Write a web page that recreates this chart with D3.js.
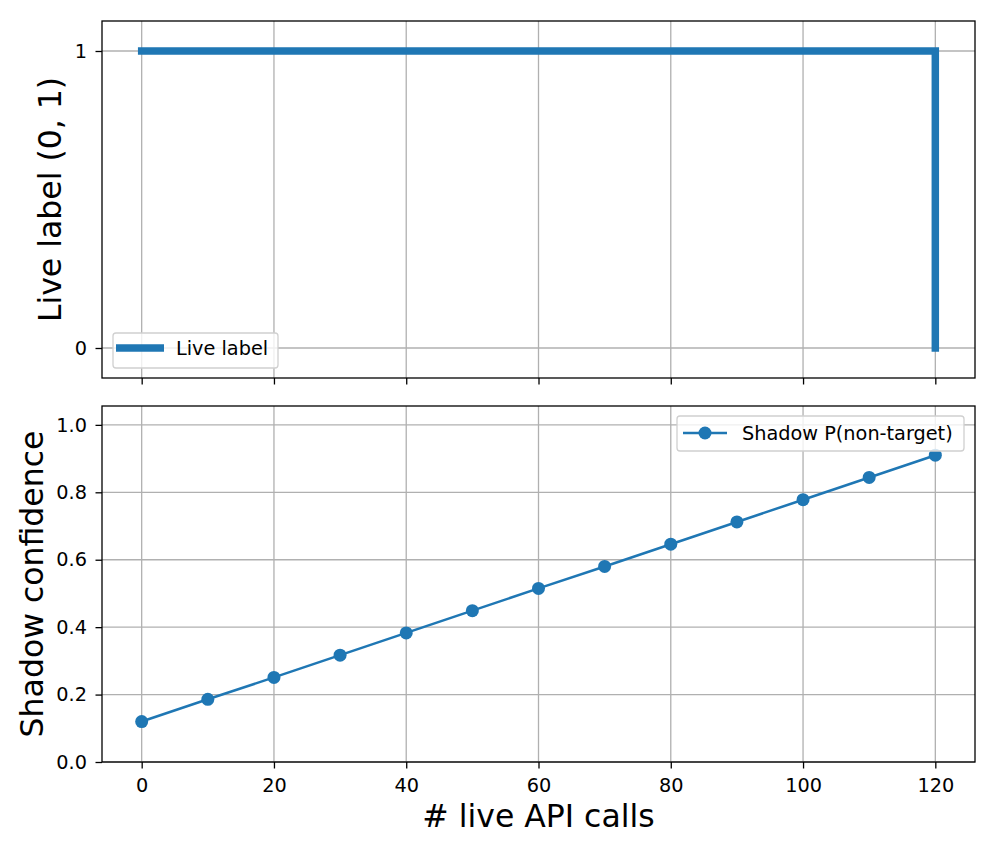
<!DOCTYPE html>
<html><head><meta charset="utf-8">
<script src="https://cdn.jsdelivr.net/npm/d3@7"></script>
<style>body{margin:0;background:#fff}svg{display:block}text{font-family:"DejaVu Sans",sans-serif}</style>
</head><body>
<script>
const calls = [0,10,20,30,40,50,60,70,80,90,100,110,120];
const liveLabel = [1,1,1,1,1,1,1,1,1,1,1,1,0];
const shadowConf = [0.12,0.186,0.251,0.317,0.383,0.449,0.515,0.580,0.646,0.712,0.778,0.844,0.910];
const xTicks = [0,20,40,60,80,100,120];
const topYTicks = [0,1];
const botYTicks = [0,0.2,0.4,0.6,0.8,1.0];
const xLabel = "# live API calls";
const topYLabel = "Live label (0, 1)";
const botYLabel = "Shadow confidence";
const topLegend = "Live label";
const botLegend = "Shadow P(non-target)";
const color = "#1f77b4";

const W=996,H=854;
const svg=d3.select("body").append("svg").attr("width",W).attr("height",H);
const L=102,R=975;
const x=d3.scaleLinear().domain([-6,126]).range([L,R]);
const yTop=d3.scaleLinear().domain([-0.101,1.101]).range([378,21]);
const yBot=d3.scaleLinear().domain([0,1.056]).range([762,406]);
const tickFont=19.3, labelFont=31.5;

function panel(y, yTicks, fmt, showXLabels){
  const g=svg.append("g");
  const [b,t]=y.range();
  g.selectAll(".gx").data(xTicks).join("line").attr("x1",d=>x(d)).attr("x2",d=>x(d))
    .attr("y1",t).attr("y2",b).attr("stroke","#b0b0b0").attr("stroke-width",1.3);
  g.selectAll(".gy").data(yTicks).join("line").attr("x1",L).attr("x2",R)
    .attr("y1",d=>y(d)).attr("y2",d=>y(d)).attr("stroke","#b0b0b0").attr("stroke-width",1.3);
  const xa=d3.axisBottom(x).tickValues(xTicks).tickSize(6.5).tickPadding(9.5)
    .tickFormat(showXLabels?d3.format("d"):"");
  const gx=svg.append("g").attr("transform",`translate(0,${b})`).call(xa);
  const ya=d3.axisLeft(y).tickValues(yTicks).tickSize(6.5).tickPadding(8.5).tickFormat(fmt);
  const gy=svg.append("g").attr("transform",`translate(${L},0)`).call(ya);
  [gx,gy].forEach(a=>{a.select(".domain").remove();
    a.selectAll("line").attr("stroke","#000").attr("stroke-width",1.3);
    a.selectAll("text").attr("font-size",tickFont).attr("fill","#000").attr("font-family","DejaVu Sans");});
  return {g,t,b};
}
function frame(t,b){
  svg.append("rect").attr("x",L).attr("y",t).attr("width",R-L).attr("height",b-t)
    .attr("fill","none").attr("stroke","#000").attr("stroke-width",1.3);
}

// Top panel
const p1=panel(yTop,topYTicks,d3.format("d"),false);
const line1=d3.line().x((d,i)=>x(calls[i])).y(d=>yTop(d)).curve(d3.curveStepAfter);
svg.append("path").attr("d",line1(liveLabel)).attr("fill","none").attr("stroke",color)
  .attr("stroke-width",7.5).attr("stroke-linejoin","miter").attr("stroke-linecap","square");
frame(p1.t,p1.b);

// Bottom panel
const p2=panel(yBot,botYTicks,d3.format(".1f"),true);
const line2=d3.line().x((d,i)=>x(calls[i])).y(d=>yBot(d));
svg.append("path").attr("d",line2(shadowConf)).attr("fill","none").attr("stroke",color).attr("stroke-width",2.5);
svg.selectAll(".dot").data(shadowConf).join("circle").attr("cx",(d,i)=>x(calls[i])).attr("cy",d=>yBot(d))
  .attr("r",6.5).attr("fill",color);
frame(p2.t,p2.b);

// Legends
function legendBox(x0,y0,w,h){
  svg.append("rect").attr("x",x0).attr("y",y0).attr("width",w).attr("height",h).attr("rx",3)
    .attr("fill","#fff").attr("fill-opacity",0.8).attr("stroke","#d0d0d0").attr("stroke-width",1.3);
}
legendBox(113,333,165,35);
svg.append("line").attr("x1",116).attr("x2",164).attr("y1",348).attr("y2",348).attr("stroke",color).attr("stroke-width",7.5);
svg.append("text").attr("x",176).attr("y",355).attr("font-size",tickFont).text(topLegend);

legendBox(677,416,287,35);
svg.append("line").attr("x1",683).attr("x2",727).attr("y1",433).attr("y2",433).attr("stroke",color).attr("stroke-width",2.5);
svg.append("circle").attr("cx",705).attr("cy",433).attr("r",6.5).attr("fill",color);
svg.append("text").attr("x",742).attr("y",440).attr("font-size",tickFont).text(botLegend);

// Axis labels
svg.append("text").attr("x",(L+R)/2).attr("y",827).attr("text-anchor","middle").attr("font-size",labelFont).text(xLabel);
svg.append("text").attr("transform",`translate(61,${(21+378)/2}) rotate(-90)`).attr("text-anchor","middle").attr("font-size",labelFont).text(topYLabel);
svg.append("text").attr("transform",`translate(43,${(406+762)/2}) rotate(-90)`).attr("text-anchor","middle").attr("font-size",labelFont).text(botYLabel);
</script>
</body></html>
